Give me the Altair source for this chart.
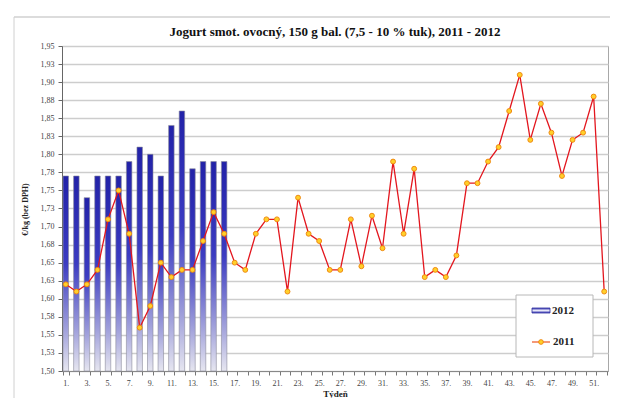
import altair as alt
import pandas as pd

weeks_2012 = list(range(1, 17))
values_2012 = [1.77, 1.77, 1.74, 1.77, 1.77, 1.77, 1.79, 1.81, 1.80, 1.77,
               1.84, 1.86, 1.78, 1.79, 1.79, 1.79]

weeks_2011 = list(range(1, 53))
values_2011 = [1.62, 1.61, 1.62, 1.64, 1.71, 1.75, 1.69, 1.56, 1.59, 1.65,
               1.63, 1.64, 1.64, 1.68, 1.72, 1.69, 1.65, 1.64, 1.69, 1.71,
               1.71, 1.61, 1.74, 1.69, 1.68, 1.64, 1.64, 1.71, 1.645, 1.715,
               1.67, 1.79, 1.69, 1.78, 1.63, 1.64, 1.63, 1.66, 1.76, 1.76,
               1.79, 1.81, 1.86, 1.91, 1.82, 1.87, 1.83, 1.77, 1.82, 1.83,
               1.88, 1.61]

y_ticks = [1.50, 1.525, 1.55, 1.575, 1.60, 1.625, 1.65, 1.675, 1.70, 1.725,
           1.75, 1.775, 1.80, 1.825, 1.85, 1.875, 1.90, 1.925, 1.95]

legend_labels = ["2012", "2011"]
title_text = "Jogurt smot. ovocný, 150 g bal. (7,5 - 10 % tuk), 2011 - 2012"
y_title = "€/kg (bez DPH)"
x_title = "Týdeň"

df12 = pd.DataFrame({"week": weeks_2012, "value": values_2012})
df11 = pd.DataFrame({"week": weeks_2011, "value": values_2011})
dummy = pd.DataFrame({"k": [0]})

SERIF = "Liberation Serif"
W, H = 546, 325

x_enc = alt.X("week:O", scale=alt.Scale(domain=weeks_2011, paddingInner=0.48, paddingOuter=0.1),
              axis=alt.Axis(title=x_title, labelAngle=0, tickBand="extent",
                            labelExpr="datum.value % 2 == 1 ? datum.value + '.' : ''",
                            labelFont=SERIF, labelFontSize=8, labelColor="#444",
                            labelPadding=4, tickSize=4, tickColor="#777", domainColor="#888",
                            labelOverlap=False,
                            titleFont=SERIF, titleFontSize=9, titleFontWeight="bold",
                            titleColor="#222", titleY=25, titleBaseline="alphabetic",
                            grid=False))
y_scale = alt.Scale(domain=[1.5, 1.95], zero=False, nice=False)
y_axis = alt.Axis(title=y_title, values=y_ticks, labelOverlap=False,
                  labelExpr="replace(format(datum.value + 0.0001, '.2f'), '.', ',')",
                  labelFont=SERIF, labelFontSize=8, labelColor="#444", labelPadding=4,
                  tickSize=4, tickColor="#666", domainColor="#666",
                  grid=True, gridColor="#cdcdcd", gridWidth=1.5,
                  titleFont=SERIF, titleFontSize=8, titleFontWeight="bold", titleColor="#222",
                  titleX=-37, titleY=163, titleAngle=-90, titleAlign="center",
                  titleBaseline="middle")
y_enc = alt.Y("value:Q", scale=y_scale, axis=y_axis)

grad = alt.Gradient(gradient="linear",
                    stops=[alt.GradientStop(color="#2222a8", offset=0),
                           alt.GradientStop(color="#3c3cc2", offset=0.45),
                           alt.GradientStop(color="#a4a4dc", offset=0.8),
                           alt.GradientStop(color="#e6e6f0", offset=1)],
                    x1=0, x2=0, y1=0, y2=1)

bars = alt.Chart(df12).mark_bar(color=grad, stroke="#8a8a9a", strokeWidth=0.6).encode(
    x=x_enc, y=y_enc, y2=alt.datum(1.5))

line = alt.Chart(df11).mark_line(color="#e3161e", strokeWidth=1.3).encode(
    x=x_enc, y=y_enc)
pts = alt.Chart(df11).mark_point(filled=True, fill="#ffd02a", stroke="#f08a10",
                                 strokeWidth=1, size=24, opacity=1).encode(
    x=x_enc, y=y_enc)

# title as text
title_mark = alt.Chart(dummy).mark_text(font=SERIF, fontSize=13, fontWeight="bold",
                                        align="center", baseline="alphabetic",
                                        color="#111").encode(
    x=alt.value(W / 2), y=alt.value(-10), text=alt.value(title_text))

# legend box
leg_box = alt.Chart(dummy).mark_rect(fill="white", stroke="#b8b8b8", strokeWidth=1).encode(
    x=alt.value(454), x2=alt.value(531), y=alt.value(249), y2=alt.value(311))
leg_sw = alt.Chart(dummy).mark_rect(color=alt.Gradient(
    gradient="linear",
    stops=[alt.GradientStop(color="#3030b0", offset=0),
           alt.GradientStop(color="#e8e8f8", offset=0.5),
           alt.GradientStop(color="#3030b0", offset=1)],
    x1=0, x2=0, y1=0, y2=1), stroke="#3030a0", strokeWidth=0.8).encode(
    x=alt.value(470), x2=alt.value(488), y=alt.value(262), y2=alt.value(267))
leg_line = alt.Chart(dummy).mark_rule(color="#f06030", strokeWidth=1.3).encode(
    x=alt.value(470), x2=alt.value(488), y=alt.value(296))
leg_pt = alt.Chart(dummy).mark_point(filled=True, fill="#ffd02a", stroke="#f08a10",
                                     strokeWidth=1, size=22, opacity=1).encode(
    x=alt.value(479), y=alt.value(296))
leg_t1 = alt.Chart(dummy).mark_text(font=SERIF, fontSize=11, fontWeight="bold",
                                    align="left", baseline="middle", color="#222").encode(
    x=alt.value(490), y=alt.value(265), text=alt.value(legend_labels[0]))
leg_t2 = alt.Chart(dummy).mark_text(font=SERIF, fontSize=11, fontWeight="bold",
                                    align="left", baseline="middle", color="#222").encode(
    x=alt.value(491), y=alt.value(296), text=alt.value(legend_labels[1]))

# chart-area frame (left & top edges)
frame_l = alt.Chart(dummy).mark_rule(color="#d0d0d0", strokeWidth=1).encode(
    x=alt.value(-48), y=alt.value(-29), y2=alt.value(H + 30))
frame_t = alt.Chart(dummy).mark_rule(color="#d0d0d0", strokeWidth=1.5).encode(
    x=alt.value(-48), x2=alt.value(W + 10), y=alt.value(-29))

chart = alt.layer(frame_l, frame_t, bars, line, pts, title_mark,
                  leg_box, leg_sw, leg_line, leg_pt, leg_t1, leg_t2).properties(
    width=W, height=H,
    autosize=alt.AutoSizeParams(type="none"),
    padding={"left": 54, "top": 38, "right": 2, "bottom": 27},
).configure_view(stroke="#a8a8a8", strokeWidth=1)

chart.save("out.html", embed_options={"renderer": "svg", "actions": False})
